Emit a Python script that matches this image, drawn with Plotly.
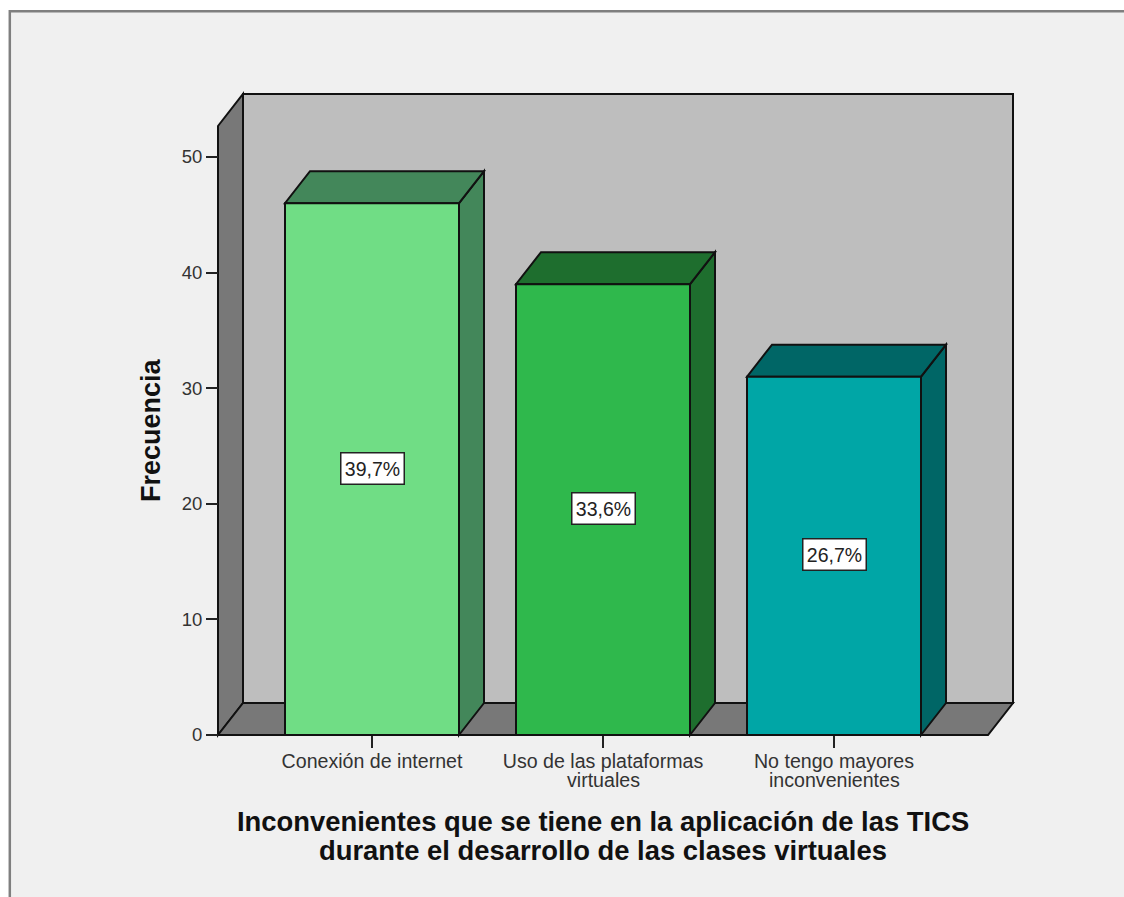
import plotly.graph_objects as go

categories = ['Conexión de internet', 'Uso de las plataformas', 'No tengo mayores']
categories_line2 = ['', 'virtuales', 'inconvenientes']
values = [46, 39, 31]
labels = ['39,7%', '33,6%', '26,7%']
front_colors = ['#70DD85', '#2FB84C', '#00A6A6']
side_colors = ['#43875A', '#1E6E2E', '#006666']
y_ticks = [0, 10, 20, 30, 40, 50]
x_title = ['Inconvenientes que se tiene en la aplicación de las TICS',
           'durante el desarrollo de las clases virtuales']

W, H = 1124, 897
# posicion del grafico en pixeles
LEFT, RIGHT, TOP, BOTTOM = 218, 1013, 94, 735
PAD = 4           # para que no se recorten los bordes
PX_X = 231.0      # pixeles por categoria
PX_Y = 11.56      # pixeles por unidad de frecuencia
X0 = 372          # centro de la primera barra
BAR_W = 174 / PX_X
DX = 25 / PX_X    # profundidad 3D
DY = 32 / PX_Y
Y_TOP = (BOTTOM - TOP) / PX_Y
X_MIN = (LEFT - X0) / PX_X
X_MAX = (RIGHT - X0) / PX_X
FRONT_RIGHT = X_MAX - DX
LINE = dict(color='#111111', width=2)
positions = list(range(len(categories)))


def poly(points, fill):
    path = 'M ' + ' L '.join(f'{x},{y}' for x, y in points) + ' Z'
    return dict(type='path', path=path, xref='x', yref='y', fillcolor=fill, line=LINE, layer='below')


shapes = [
    # fondo y marco
    dict(type='rect', xref='paper', yref='paper', x0=9.8 / W, x1=1.01, y0=-0.01, y1=1 - 11.3 / H,
         fillcolor='#F0F0F0', line=dict(color='#7F7F7F', width=2.5), layer='below'),
    # paredes
    poly([(X_MIN + DX, DY), (X_MAX, DY), (X_MAX, Y_TOP), (X_MIN + DX, Y_TOP)], '#BEBEBE'),
    poly([(X_MIN, 0), (X_MIN + DX, DY), (X_MIN + DX, Y_TOP), (X_MIN, Y_TOP - DY)], '#787878'),
    poly([(X_MIN, 0), (FRONT_RIGHT, 0), (X_MAX, DY), (X_MIN + DX, DY)], '#787878'),
]

# caras laterales y superiores de cada barra
for pos, val, side in zip(positions, values, side_colors):
    x_l, x_r = pos - BAR_W / 2, pos + BAR_W / 2
    shapes.append(poly([(x_r, 0), (x_r + DX, DY), (x_r + DX, val + DY), (x_r, val)], side))
    shapes.append(poly([(x_l, val), (x_r, val), (x_r + DX, val + DY), (x_l + DX, val + DY)], side))

fig = go.Figure()
fig.add_trace(go.Bar(
    x=positions,
    y=values,
    width=BAR_W,
    marker=dict(color=front_colors, line=LINE),
    hoverinfo='skip',
))

annotations = []
for pos, val, lab in zip(positions, values, labels):
    annotations.append(dict(
        x=pos, y=val / 2, xref='x', yref='y', text=lab, showarrow=False, yshift=1,
        width=60, height=28,
        font=dict(family='Liberation Sans', size=19.5, color='#222222'),
        bgcolor='white', bordercolor='#222222', borderwidth=1.5, borderpad=1,
    ))
# segunda linea de las categorias, con interlineado ajustado
for pos, txt in zip(positions, categories_line2):
    if txt:
        annotations.append(dict(
            x=pos, y=1 - 780 / H, xref='x', yref='paper', text=txt, showarrow=False,
            xanchor='center', yanchor='middle',
            font=dict(family='Liberation Sans', size=19.6, color='#333333'),
        ))
for txt, ypx in zip(x_title, [821, 850]):
    annotations.append(dict(
        x=603 / W, y=1 - ypx / H, xref='paper', yref='paper', showarrow=False, text=txt,
        xanchor='center', yanchor='middle',
        font=dict(family='Liberation Sans', size=27.4, color='#111111', weight='bold'),
    ))
annotations.append(dict(
    x=151 / W, y=1 - 430 / H, xref='paper', yref='paper', showarrow=False, textangle=-90,
    text='Frecuencia', xanchor='center', yanchor='middle',
    font=dict(family='Liberation Sans', size=27, color='#111111', weight='bold'),
))

fig.update_layout(
    width=W,
    height=H,
    margin=dict(l=0, r=0, t=0, b=0),
    autosize=False,
    showlegend=False,
    paper_bgcolor='white',
    plot_bgcolor='rgba(0,0,0,0)',
    shapes=shapes,
    annotations=annotations,
    xaxis=dict(
        domain=[(LEFT - PAD) / W, (RIGHT + PAD) / W],
        range=[X_MIN - PAD / PX_X, X_MAX + PAD / PX_X],
        anchor='free',
        position=1 - BOTTOM / H,
        automargin=False,
        tickmode='array',
        tickvals=positions,
        ticktext=categories,
        ticks='outside',
        ticklen=12,
        tickwidth=2,
        tickcolor='#222222',
        ticklabelstandoff=-4,
        showgrid=False,
        zeroline=False,
        showline=False,
        tickfont=dict(family='Liberation Sans', size=19.6, color='#333333'),
    ),
    yaxis=dict(
        domain=[1 - (BOTTOM + PAD) / H, 1 - (TOP - PAD) / H],
        range=[-PAD / PX_Y, Y_TOP + PAD / PX_Y],
        anchor='free',
        position=LEFT / W,
        automargin=False,
        tickmode='array',
        tickvals=y_ticks,
        ticks='outside',
        ticklen=12,
        tickwidth=2,
        tickcolor='#222222',
        showgrid=False,
        zeroline=False,
        showline=False,
        tickfont=dict(family='Liberation Sans', size=18.5, color='#333333'),
    ),
)

fig.write_html("out.html", config=dict(displayModeBar=False), post_script="document.body.style.margin='0';")
